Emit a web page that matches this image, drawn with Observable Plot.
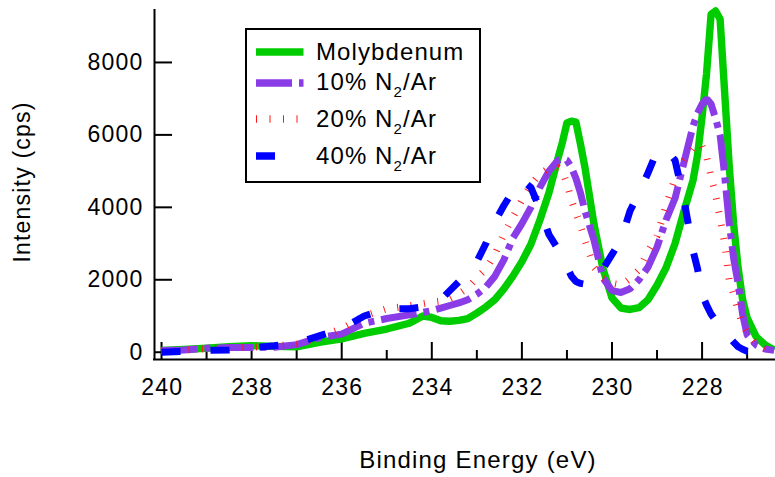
<!DOCTYPE html>
<html>
<head>
<meta charset="utf-8">
<script src="https://cdn.jsdelivr.net/npm/d3@7"></script>
<script src="https://cdn.jsdelivr.net/npm/@observablehq/plot@0.6"></script>
<style>
  body { margin: 0; background: #fff; }
  #wrap { position: relative; width: 775px; height: 477px; font-family: "Liberation Sans", Arial, sans-serif; color: #000; }
  #wrap svg text { letter-spacing: 1.2px; }
  #legend { position: absolute; left: 245px; top: 28px; width: 236px; height: 155px; box-sizing: border-box;
            border: 2px solid #000; background: #fff; }
  .sw { position: absolute; left: 9px; width: 48px; height: 12px; overflow: visible; }
  .lab { position: absolute; left: 69px; font-size: 24px; line-height: 24px; letter-spacing: 1.1px; white-space: nowrap; }
  .sub { font-size: 15px; position: relative; top: 7px; }
</style>
</head>
<body>
<div id="wrap"></div>
<script>
// Binding energy grid (eV)
const energy = [240, 239.5, 239, 238.5, 238, 237.5, 237, 236.5, 236, 235.5, 235, 234.5, 234.2, 234, 233.8, 233.6, 233.4, 233.2, 233.0, 232.8, 232.6, 232.4, 232.2, 232.0, 231.8, 231.6, 231.4, 231.2, 231.1, 231.0, 230.9, 230.8, 230.7, 230.6, 230.4, 230.2, 230.0, 229.8, 229.6, 229.4, 229.2, 229.0, 228.8, 228.6, 228.4, 228.2, 228.1, 228.0, 227.9, 227.8, 227.7, 227.6, 227.5, 227.4, 227.3, 227.2, 227.1, 227.0, 226.8, 226.6, 226.4];

// Intensities (cps)
const molybdenum = [50, 80, 110, 150, 180, 160, 150, 270, 370, 520, 640, 800, 1000, 960, 870, 855, 880, 925, 1080, 1250, 1450, 1750, 2100, 2500, 2980, 3650, 4400, 5350, 5800, 6330, 6380, 6350, 5750, 5100, 3540, 2300, 1500, 1220, 1180, 1230, 1450, 1850, 2330, 3000, 3900, 4750, 5450, 6500, 7700, 9330, 9420, 9200, 7200, 5200, 3550, 2330, 1450, 950, 430, 200, 60];
const n2_10 = [50, 60, 110, 130, 130, 140, 210, 400, 500, 800, 930, 1030, 1100, 1150, 1220, 1290, 1360, 1450, 1600, 1800, 2100, 2550, 3150, 3550, 4000, 4550, 5000, 5300, 5350, 5300, 5100, 4800, 4400, 3900, 3100, 2050, 1700, 1650, 1750, 2000, 2350, 2900, 3650, 4250, 5250, 6250, 6600, 6850, 7000, 6850, 6450, 6000, 4900, 3600, 2600, 1900, 1050, 480, 200, 90, 50];
const n2_20 = [30, 60, 100, 120, 140, 170, 230, 420, 650, 1000, 1200, 1280, 1340, 1380, 1410, 1480, 1610, 1780, 2050, 2300, 2700, 3260, 3730, 4200, 4620, 4920, 5080, 5100, 5000, 4650, 4200, 3850, 3500, 3100, 2350, 2050, 1900, 1850, 2030, 2280, 2800, 3200, 4050, 4800, 5300, 5650, 5750, 5700, 5400, 4850, 4350, 3700, 3000, 2000, 1600, 1150, 780, 540, 220, 100, 50];
const n2_40 = [0, 20, 50, 60, 120, 180, 250, 450, 650, 1000, 1200, 1200, 1250, 1350, 1450, 1700, 1950, 2250, 2500, 3000, 3600, 4050, 4450, 4750, 4550, 3950, 3250, 2850, 2600, 2350, 2100, 1950, 1900, 1880, 1950, 2300, 2700, 3100, 3900, 4400, 4950, 5550, 5600, 5300, 4200, 2800, 2300, 1600, 1300, 1050, 880, 750, 580, 420, 280, 150, 80, 30, 0, 0, 0];

const seriesNames = ["Molybdenum", "10% N2/Ar", "20% N2/Ar", "40% N2/Ar"];
const seriesColors = ["#00cc00", "#8a3ce6", "#ff1a1a", "#0000ff"];
const seriesDash = [null, "36,7,6,7", "1,12.5", "19,30"];

// Axis ticks
const xMajorTicks = [240, 238, 236, 234, 232, 230, 228];
const xMinorTicks = [239, 237, 235, 233, 231, 229, 227];
const yTicks = [0, 2000, 4000, 6000, 8000];
const xDomain = [240.156, 226.37];
const yDomain = [-201, 9462];

const seriesValues = [molybdenum, n2_10, n2_20, n2_40];
const rows = seriesValues.map(vals => energy.map((e, i) => ({e, v: vals[i]})));

const W = 775, H = 477, mL = 154, mR = 0, mT = 9, mB = 118;
const frameW = W - mL - mR, frameH = H - mT - mB;

const lineMarks = rows.map((r, k) => Plot.line(r, {
  x: "e", y: "v",
  stroke: seriesColors[k],
  strokeWidth: k === 0 ? 7.4 : 7,
  strokeDasharray: seriesDash[k] ?? undefined,
  strokeLinecap: "butt",
  strokeLinejoin: k === 0 ? "round" : "miter"
}));

const chart = Plot.plot({
  width: W, height: H,
  marginLeft: mL, marginRight: mR, marginTop: mT, marginBottom: mB,
  x: {domain: xDomain, axis: null},
  y: {domain: yDomain, axis: null},
  style: {fontFamily: '"Liberation Sans", Arial, sans-serif', fontSize: "23px", background: "white", color: "black", overflow: "visible"},
  marks: [
    // axis lines
    Plot.ruleX([xDomain[0]], {stroke: "black", strokeWidth: 2}),
    Plot.ruleY([yDomain[0]], {stroke: "black", strokeWidth: 2, strokeLinecap: "square"}),
    // ticks (inward)
    Plot.ruleX(xMajorTicks, {stroke: "black", strokeWidth: 2, insetTop: frameH - 17}),
    Plot.ruleX(xMinorTicks, {stroke: "black", strokeWidth: 2, insetTop: frameH - 9}),
    Plot.ruleY(yTicks, {stroke: "black", strokeWidth: 2, insetRight: frameW - 18}),
    // tick labels
    Plot.text(xMajorTicks, {x: d => d, frameAnchor: "bottom", text: d => String(d), textAnchor: "middle", lineAnchor: "top", dy: 18.7, dx: 0.6, fontSize: 23}),
    Plot.text(yTicks, {y: d => d, frameAnchor: "left", text: d => String(d), textAnchor: "end", lineAnchor: "middle", dx: -11.1, fontSize: 23}),
    // axis titles
    Plot.text(["Binding Energy (eV)"], {frameAnchor: "bottom", textAnchor: "middle", lineAnchor: "middle", dx: 13, dy: 100.5, fontSize: 24}),
    Plot.text(["Intensity (cps)"], {frameAnchor: "left", textAnchor: "middle", lineAnchor: "middle", rotate: -90, dx: -132.3, dy: -2.5, fontSize: 23}),
    // data
    ...lineMarks
  ]
});

const wrap = document.getElementById("wrap");
wrap.appendChild(chart);

// Legend
const legend = document.createElement("div");
legend.id = "legend";
const rowCenters = [22, 52.7, 89.3, 126];
const textTops = [10, 40.1, 76.8, 113.5];
seriesNames.forEach((name, k) => {
  const svg = d3.create("svg").attr("class", "sw").attr("width", 48).attr("height", 12)
    .style("top", (rowCenters[k] - 6) + "px");
  svg.append("line").attr("x1", 0).attr("x2", 47.5).attr("y1", 6).attr("y2", 6)
    .attr("stroke", seriesColors[k]).attr("stroke-width", k === 0 ? 7.7 : 7.5)
    .attr("stroke-dasharray", seriesDash[k]).attr("stroke-linecap", "butt");
  legend.appendChild(svg.node());
  const lab = document.createElement("div");
  lab.className = "lab";
  lab.style.top = textTops[k] + "px";
  const m = name.match(/^(.*N)2(\/Ar)$/);
  if (m) {
    lab.append(m[1]);
    const s = document.createElement("span"); s.className = "sub"; s.textContent = "2";
    lab.append(s);
    lab.append(m[2]);
  } else {
    lab.textContent = name;
  }
  legend.appendChild(lab);
});
wrap.appendChild(legend);
</script>
</body>
</html>
